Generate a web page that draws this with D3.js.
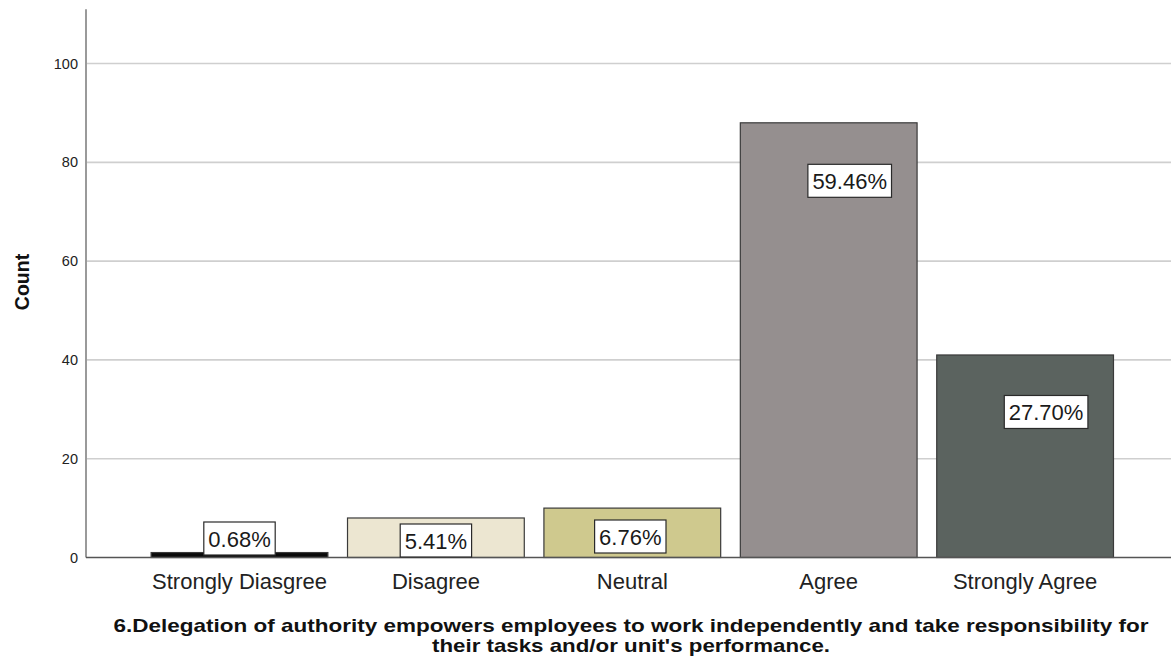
<!DOCTYPE html>
<html>
<head>
<meta charset="utf-8">
<script src="https://cdn.jsdelivr.net/npm/d3@7"></script>
<style>
  html, body { margin: 0; padding: 0; background: #ffffff; }
  svg { display: block; }
</style>
</head>
<body>
<svg id="chart" width="1171" height="660"></svg>
<script>
// Response categories, counts and percentages for item 6
const categories = ["Strongly Diasgree", "Disagree", "Neutral", "Agree", "Strongly Agree"];
const counts = [1, 8, 10, 88, 41];
const percentLabels = ["0.68%", "5.41%", "6.76%", "59.46%", "27.70%"];
const barColors = ["#0a0a0a", "#ece6d1", "#cfc98e", "#958f8f", "#5b635f"];
const yTicks = [0, 20, 40, 60, 80, 100];
const yAxisTitle = "Count";
const titleLines = [
  "6.Delegation of authority empowers employees to work independently and take responsibility for",
  "their tasks and/or unit's performance."
];

// Label placement: short bars are labelled near the baseline, tall bars below their top
const labelNudges = [[0, -19], [0, -17], [-2, -21], [21, 58], [21, 57]];

const svg = d3.select("#chart");
const plot = { left: 86, right: 1171, top: 9.2, bottom: 557.5 };

const x = d3.scaleBand()
  .domain(categories)
  .range([141.3, 1123.3])
  .paddingInner(0.1)
  .paddingOuter(0.05);

const y = d3.scaleLinear()
  .domain([0, 111])
  .range([plot.bottom, plot.top]);

// Horizontal gridlines
svg.append("g")
  .selectAll("line")
  .data(yTicks.filter(d => d > 0))
  .join("line")
  .attr("x1", plot.left).attr("x2", plot.right)
  .attr("y1", d => y(d)).attr("y2", d => y(d))
  .attr("stroke", "#cfcfcf")
  .attr("stroke-width", 1.6);

// Y axis with tick labels
const yAxis = svg.append("g")
  .attr("transform", `translate(${plot.left},0)`)
  .call(d3.axisLeft(y).tickValues(yTicks).tickSize(0).tickPadding(8));
yAxis.select(".domain").remove();
yAxis.selectAll("text")
  .attr("font-family", "'Liberation Sans', Arial, sans-serif")
  .attr("font-size", 14.5)
  .attr("fill", "#222");

svg.append("line")
  .attr("x1", plot.left).attr("x2", plot.left)
  .attr("y1", plot.top).attr("y2", plot.bottom)
  .attr("stroke", "#9a9a9a")
  .attr("stroke-width", 2);

// Bars
svg.append("g")
  .selectAll("rect")
  .data(categories)
  .join("rect")
  .attr("x", d => x(d))
  .attr("width", x.bandwidth())
  .attr("y", (d, i) => y(counts[i]))
  .attr("height", (d, i) => y(0) - y(counts[i]))
  .attr("fill", (d, i) => barColors[i])
  .attr("stroke", "#3a3a3a")
  .attr("stroke-width", 1.2);

// Baseline
svg.append("line")
  .attr("x1", plot.left).attr("x2", plot.right)
  .attr("y1", y(0)).attr("y2", y(0))
  .attr("stroke", "#555")
  .attr("stroke-width", 1.4);

// X axis category labels
const xAxis = svg.append("g")
  .attr("transform", `translate(0,${y(0)})`)
  .call(d3.axisBottom(x).tickSize(0).tickPadding(16));
xAxis.select(".domain").remove();
xAxis.selectAll("text")
  .attr("font-family", "'Liberation Sans', Arial, sans-serif")
  .attr("font-size", 22)
  .attr("fill", "#222");

// Percentage labels in white boxes
const labels = svg.append("g")
  .selectAll("g")
  .data(categories)
  .join("g")
  .attr("transform", (d, i) => {
    const cx = x(d) + x.bandwidth() / 2 + labelNudges[i][0];
    const anchorY = counts[i] < 20 ? y(0) : y(counts[i]);
    return `translate(${cx},${anchorY + labelNudges[i][1]})`;
  });

labels.each(function (d, i) {
  const g = d3.select(this);
  const rect = g.append("rect");
  const t = g.append("text")
    .attr("text-anchor", "middle")
    .attr("y", 8)
    .attr("font-family", "'Liberation Sans', Arial, sans-serif")
    .attr("font-size", 22)
    .attr("fill", "#1a1a1a")
    .text(percentLabels[i]);
  const w = t.node().getComputedTextLength() + 9;
  const h = 33;
  rect.attr("x", -w / 2).attr("y", -h / 2)
    .attr("width", w).attr("height", h)
    .attr("fill", "#ffffff")
    .attr("stroke", "#2a2a2a")
    .attr("stroke-width", 1.2);
});

// Y axis title
svg.append("text")
  .attr("transform", "translate(29,282) rotate(-90)")
  .attr("text-anchor", "middle")
  .attr("font-family", "'Liberation Sans', Arial, sans-serif")
  .attr("font-weight", "bold")
  .attr("font-size", 19.5)
  .attr("fill", "#111")
  .text(yAxisTitle);

// Chart title beneath the axis, condensed to fit
const titleWidths = [1035, 398];
svg.append("g")
  .selectAll("text")
  .data(titleLines)
  .join("text")
  .attr("x", 631)
  .attr("y", (d, i) => 632 + i * 20)
  .attr("text-anchor", "middle")
  .attr("font-family", "'Liberation Sans', Arial, sans-serif")
  .attr("font-weight", "bold")
  .attr("font-size", 18.5)
  .attr("fill", "#111")
  .attr("textLength", (d, i) => titleWidths[i])
  .attr("lengthAdjust", "spacingAndGlyphs")
  .text(d => d);
</script>
</body>
</html>
